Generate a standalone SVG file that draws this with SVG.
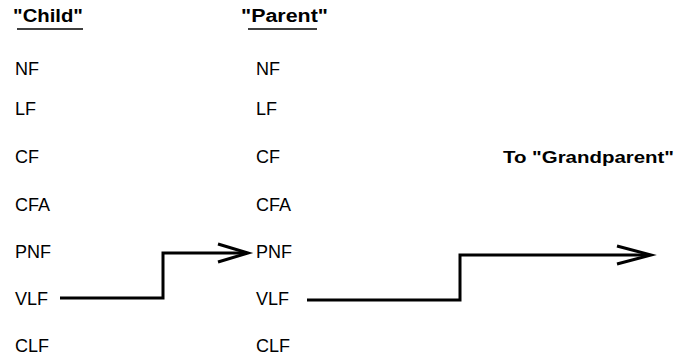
<svg xmlns="http://www.w3.org/2000/svg" width="678" height="362" viewBox="0 0 678 362">
<style>
text{font-family:"Liberation Sans",Arial,sans-serif;fill:#000}
.h{font-weight:bold;font-size:18px}
.r{font-size:18px}
.ul{stroke:#000;stroke-width:1.6;fill:none}
.c{stroke:#000;stroke-width:3;fill:none;stroke-linejoin:miter}
</style>
<rect width="678" height="362" fill="#fff"/>
<g id="child">
<text class="h" x="13" y="22" textLength="70" lengthAdjust="spacingAndGlyphs">"Child"</text>
<line class="ul" x1="17" y1="29" x2="83" y2="29"/>
<text class="r" x="15" y="75">NF</text>
<text class="r" x="15" y="115">LF</text>
<text class="r" x="15" y="163">CF</text>
<text class="r" x="15" y="211">CFA</text>
<text class="r" x="15" y="258">PNF</text>
<text class="r" x="15" y="305">VLF</text>
<text class="r" x="15" y="352">CLF</text>
</g>
<g id="parent">
<text class="h" x="241" y="22" textLength="87" lengthAdjust="spacingAndGlyphs">"Parent"</text>
<line class="ul" x1="248" y1="29" x2="317" y2="29"/>
<text class="r" x="256" y="75">NF</text>
<text class="r" x="256" y="115">LF</text>
<text class="r" x="256" y="163">CF</text>
<text class="r" x="256" y="211">CFA</text>
<text class="r" x="256" y="258">PNF</text>
<text class="r" x="256" y="305">VLF</text>
<text class="r" x="256" y="352">CLF</text>
</g>
<g id="grandparent">
<text class="h" x="503" y="163" style="font-size:16px" textLength="171" lengthAdjust="spacingAndGlyphs">To "Grandparent"</text>
</g>
<g id="connectors">
<polyline class="c" points="60,298 163,298 163,253 246,253"/>
<polyline class="c" points="218,244 248,253 218,262"/>
<polyline class="c" points="307,300 460,300 460,255 649,255"/>
<polyline class="c" points="617,246 651,255 617,264"/>
</g>
</svg>
